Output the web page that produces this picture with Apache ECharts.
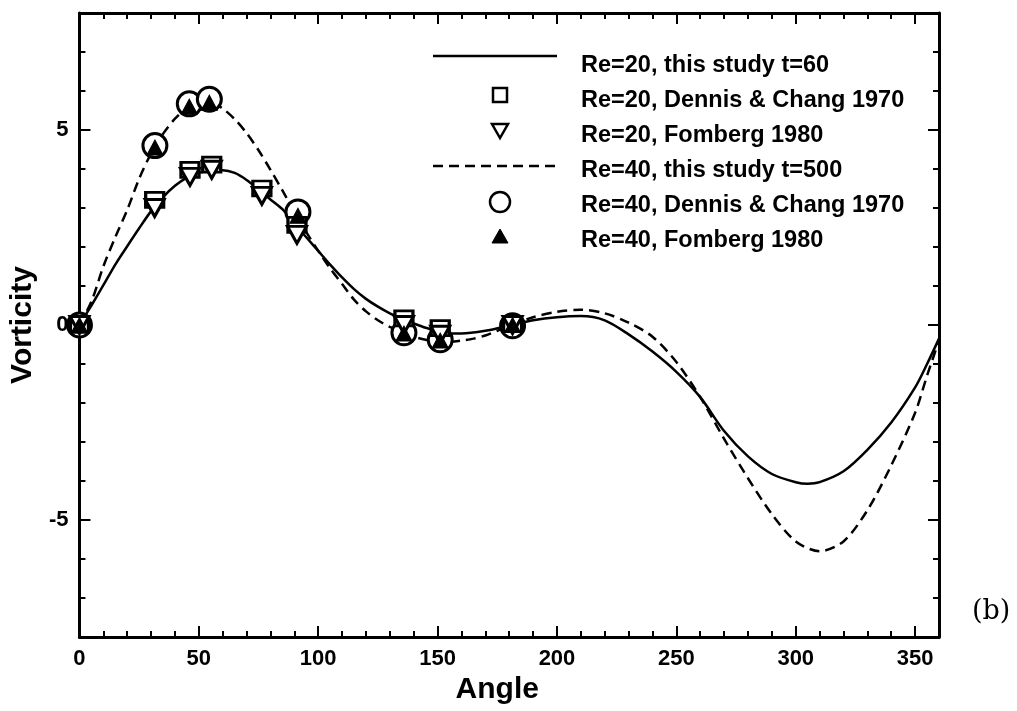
<!DOCTYPE html>
<html>
<head>
<meta charset="utf-8">
<script src="https://cdn.jsdelivr.net/npm/echarts@6/dist/echarts.min.js"></script>
<style>
  html, body { margin: 0; padding: 0; background: #fff; }
  #chart { width: 1017px; height: 711px; }
</style>
</head>
<body>
<div id="chart"></div>
<script>
// Surface vorticity around the cylinder versus angle

// Tick labels
const angleLabels = [0, 50, 100, 150, 200, 250, 300, 350];
const vortLabels = [-5, 0, 5];

// Re=20, this study t=60 (solid curve): [angle, vorticity]
const re20Study = [
  [0, 0], [5, 0.5], [10, 1.02], [15, 1.55], [20, 2.02], [25, 2.48], [30, 2.92],
  [35, 3.28], [40, 3.57], [45, 3.78], [50, 3.9], [55, 3.96], [60, 3.97], [65, 3.9],
  [70, 3.72], [75, 3.47], [80, 3.22], [85, 2.97], [90, 2.6], [95, 2.25], [100, 1.9],
  [105, 1.55], [110, 1.22], [115, 0.92], [120, 0.67], [125, 0.47], [130, 0.3],
  [135, 0.16], [140, 0.04], [145, -0.07], [150, -0.15], [155, -0.21], [160, -0.22],
  [170, -0.15], [180, -0.02], [190, 0.12], [200, 0.2], [210, 0.23], [220, 0.12],
  [230, -0.24], [240, -0.68], [250, -1.2], [260, -1.85], [270, -2.72], [280, -3.37],
  [290, -3.82], [300, -4.03], [305, -4.07], [310, -4.03], [320, -3.75], [330, -3.2],
  [340, -2.5], [350, -1.6], [355, -1.0], [360, -0.35]
];

// Re=40, this study t=500 (dashed curve)
const re40Study = [
  [0, 0], [5, 0.6], [10, 1.5], [15, 2.25], [20, 2.95], [25, 3.75], [30, 4.4],
  [35, 4.9], [40, 5.29], [45, 5.56], [50, 5.7], [55, 5.72], [60, 5.55], [65, 5.28],
  [70, 4.92], [75, 4.48], [80, 3.98], [85, 3.45], [90, 2.9], [95, 2.38], [100, 1.9],
  [105, 1.45], [110, 1.05], [115, 0.65], [120, 0.35], [125, 0.12], [130, -0.05],
  [135, -0.18], [140, -0.3], [145, -0.38], [150, -0.42], [155, -0.43], [160, -0.4],
  [165, -0.35], [170, -0.27], [175, -0.15], [180, -0.02], [190, 0.2], [200, 0.34],
  [210, 0.39], [220, 0.3], [230, 0.06], [240, -0.3], [250, -0.95], [260, -1.85],
  [270, -2.92], [280, -3.93], [290, -4.85], [300, -5.55], [310, -5.8], [320, -5.55],
  [330, -4.75], [340, -3.6], [350, -2.25], [355, -1.3], [360, -0.4]
];

// Reference data points
const re20Dennis = [
  [0, 0], [31.5, 3.21], [46.3, 3.98], [55.4, 4.11], [76.4, 3.5], [91.1, 2.57],
  [135.9, 0.17], [151.1, -0.08], [181.4, 0.02]
];
const re20Fornberg = [
  [0, 0], [31.5, 3.0], [46.3, 3.8], [55.4, 3.98], [76.4, 3.31], [91.1, 2.31],
  [135.9, 0.0], [151.1, -0.25], [181.4, 0.0]
];
const re40Dennis = [
  [0, 0], [31.6, 4.6], [46.0, 5.67], [54.4, 5.79], [91.5, 2.9],
  [135.9, -0.2], [151.1, -0.38], [181.4, -0.02]
];
const re40Fornberg = [
  [0, 0], [31.6, 4.55], [46.0, 5.6], [54.4, 5.7], [91.5, 2.8],
  [135.9, -0.22], [151.1, -0.4], [181.4, 0.0]
];

// Legend entries, top to bottom
const legendLabels = [
  'Re=20, this study t=60',
  'Re=20, Dennis & Chang 1970',
  'Re=20, Fomberg 1980',
  'Re=40, this study t=500',
  'Re=40, Dennis & Chang 1970',
  'Re=40, Fomberg 1980'
];

const FONT = '"Liberation Sans", Arial, sans-serif';
const INK = '#000';

// One frame side: minor ticks (with axis line) or major ticks only
function frameAxis(kind, position, major, withLabels) {
  const isX = kind === 'x';
  const axis = {
    type: 'value',
    position: position,
    min: isX ? 0 : -8,
    max: isX ? 360 : 8,
    interval: isX ? 10 : 1,
    splitLine: { show: false },
    axisLine: { show: !major, onZero: false, lineStyle: { color: INK, width: 3 } },
    axisTick: {
      show: true, inside: true,
      length: major ? 11 : 6,
      lineStyle: { color: INK, width: 2 }
    },
    axisLabel: { show: false }
  };
  if (major) {
    axis.axisTick.customValues = isX ? angleLabels.filter(v => v > 0) : vortLabels;
  }
  if (withLabels) {
    axis.axisLabel = {
      show: true,
      customValues: isX ? angleLabels : vortLabels,
      color: INK, fontFamily: FONT, fontWeight: 'bold', fontSize: 22,
      margin: 11
    };
    axis.name = isX ? 'Angle' : 'Vorticity';
    axis.nameLocation = 'middle';
    axis.nameGap = isX ? 36 : 35;
    axis.nameTextStyle = {
      color: INK, fontFamily: FONT, fontWeight: 'bold', fontSize: 30,
      padding: isX ? [0, 24, 0, 0] : [0, 0, 0, 0]
    };
  }
  return axis;
}

// Legend drawn as graphic rows: icon column centred at x=500, text at x=581
function legendGraphics() {
  const textY = [66, 101, 136, 171, 206, 241];
  const iconY = [56, 95, 131, 166, 202, 236];
  const cx = 500;
  const els = [];
  const stroke = { stroke: INK, lineWidth: 2.5, fill: '#fff' };
  // solid line
  els.push({ type: 'line', shape: { x1: 433, y1: iconY[0], x2: 557, y2: iconY[0] },
    style: { stroke: INK, lineWidth: 2.5 } });
  // square
  els.push({ type: 'rect', shape: { x: cx - 7, y: iconY[1] - 7, width: 14, height: 14 }, style: stroke });
  // open down triangle
  els.push({ type: 'polygon', shape: { points: [[cx - 8, iconY[2] - 7], [cx + 8, iconY[2] - 7], [cx, iconY[2] + 7]] }, style: stroke });
  // dashed line
  els.push({ type: 'line', shape: { x1: 433, y1: iconY[3], x2: 557, y2: iconY[3] },
    style: { stroke: INK, lineWidth: 2.5, lineDash: [10, 6] } });
  // open circle
  els.push({ type: 'circle', shape: { cx: cx, cy: iconY[4], r: 10 }, style: stroke });
  // filled up triangle
  els.push({ type: 'polygon', shape: { points: [[cx - 8, iconY[5] + 7], [cx + 8, iconY[5] + 7], [cx, iconY[5] - 7]] },
    style: { fill: INK, stroke: INK, lineWidth: 1 } });
  legendLabels.forEach((t, i) => {
    els.push({ type: 'text', x: 581, y: textY[i],
      style: { text: t, fill: INK, font: 'bold 23.5px ' + FONT, verticalAlign: 'middle', align: 'left' } });
  });
  return els;
}

const chart = echarts.init(document.getElementById('chart'), null, { renderer: 'canvas' });

chart.setOption({
  animation: false,
  backgroundColor: '#fff',
  grid: { left: 79, right: 78, top: 13, bottom: 74, containLabel: false },
  xAxis: [
    frameAxis('x', 'bottom', false, true),
    frameAxis('x', 'bottom', true, false),
    frameAxis('x', 'top', false, false),
    frameAxis('x', 'top', true, false)
  ],
  yAxis: [
    frameAxis('y', 'left', false, true),
    frameAxis('y', 'left', true, false),
    frameAxis('y', 'right', false, false),
    frameAxis('y', 'right', true, false)
  ],
  series: [
    {
      name: legendLabels[0], type: 'line', data: re20Study, smooth: 0.3,
      symbol: 'none', z: 2, color: INK,
      lineStyle: { color: INK, width: 2.5, type: 'solid' }
    },
    {
      name: legendLabels[3], type: 'line', data: re40Study, smooth: 0.3,
      symbol: 'none', z: 2, color: INK,
      lineStyle: { color: INK, width: 2.5, type: [10, 6] }
    },
    {
      name: legendLabels[4], type: 'scatter', data: re40Dennis, z: 3,
      symbol: 'circle', symbolSize: 24,
      itemStyle: { color: '#fff', borderColor: INK, borderWidth: 3, opacity: 1 }
    },
    {
      name: legendLabels[1], type: 'scatter', data: re20Dennis, z: 4,
      symbol: 'rect', symbolSize: [18, 15],
      itemStyle: { color: '#fff', borderColor: INK, borderWidth: 3, opacity: 1 }
    },
    {
      name: legendLabels[2], type: 'scatter', data: re20Fornberg, z: 5,
      symbol: 'triangle', symbolSize: [19, 17], symbolRotate: 180,
      itemStyle: { color: '#fff', borderColor: INK, borderWidth: 3, opacity: 1 }
    },
    {
      name: legendLabels[5], type: 'scatter', data: re40Fornberg, z: 6,
      symbol: 'triangle', symbolSize: [16, 15],
      itemStyle: { color: INK, borderColor: INK, borderWidth: 1, opacity: 1 }
    }
  ],
  graphic: legendGraphics().concat([
    {
      type: 'text', left: 972, top: 598,
      style: { text: '(b)', fill: INK, font: '27px "DejaVu Serif", serif' }
    }
  ])
});
</script>
</body>
</html>
